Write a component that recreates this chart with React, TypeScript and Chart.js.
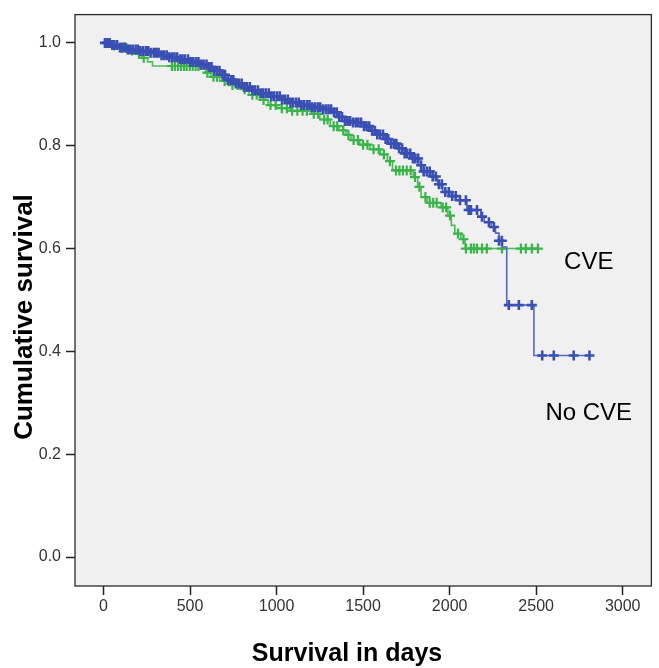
import { FC, useEffect, useRef } from 'react';
import { Chart, registerables, Plugin } from 'chart.js';

Chart.register(...registerables);

// Kaplan-Meier steps: [day, cumulative survival]
const noCveSteps: [number, number][] = [
  [0, 1.0], [40, 0.996], [90, 0.991], [140, 0.987], [200, 0.984], [260, 0.981],
  [320, 0.976], [370, 0.972], [430, 0.968], [490, 0.963], [550, 0.958], [600, 0.953],
  [640, 0.946], [680, 0.938], [715, 0.928], [760, 0.921], [800, 0.914], [850, 0.908],
  [900, 0.902], [960, 0.896], [1020, 0.89], [1080, 0.884], [1140, 0.879], [1200, 0.875],
  [1260, 0.871], [1320, 0.865], [1350, 0.856], [1380, 0.848], [1440, 0.845], [1490, 0.838],
  [1540, 0.829], [1580, 0.822], [1620, 0.813], [1660, 0.804], [1700, 0.795], [1740, 0.785],
  [1780, 0.775], [1820, 0.762], [1850, 0.75], [1890, 0.74], [1930, 0.725], [1960, 0.71],
  [2010, 0.702], [2060, 0.694], [2100, 0.675], [2180, 0.662], [2200, 0.651], [2240, 0.642],
  [2265, 0.63], [2285, 0.615], [2305, 0.603], [2330, 0.49], [2487, 0.392],
];
const noCveCensored = [
  8, 22, 35, 50, 62, 78, 95, 110, 124, 140, 152, 168, 185, 198, 212, 228, 245, 258, 272, 290,
  305, 318, 335, 350, 365, 380, 396, 410, 425, 442, 456, 470, 488, 502, 515, 532, 548, 562,
  578, 595, 610, 624, 640, 655, 670, 688, 702, 718, 735, 750, 765, 782, 798, 812, 828, 845,
  860, 875, 892, 908, 922, 938, 955, 970, 985, 1002, 1018, 1032, 1048, 1065, 1080, 1095,
  1112, 1128, 1142, 1158, 1175, 1190, 1205, 1222, 1238, 1252, 1268, 1285, 1300, 1315, 1332,
  1348, 1362, 1378, 1395, 1410, 1425, 1442, 1458, 1472, 1488, 1505, 1520, 1535, 1552, 1568,
  1582, 1598, 1615, 1630, 1645, 1662, 1678, 1692, 1708, 1725, 1740, 1755, 1772, 1788, 1802,
  1818, 1835, 1850, 1868, 1885, 1902, 1920, 1938, 1955, 1975, 1995, 2015, 2035, 2060, 2094,
  2110, 2123, 2158, 2187, 2227, 2256, 2285, 2302, 2342, 2400, 2475, 2535, 2602, 2717, 2808,
];

const cveSteps: [number, number][] = [
  [0, 1.0], [50, 0.995], [90, 0.99], [140, 0.985], [180, 0.979], [220, 0.971], [255, 0.963],
  [283, 0.955], [560, 0.949], [590, 0.942], [620, 0.934], [670, 0.926], [730, 0.918],
  [790, 0.91], [840, 0.899], [900, 0.889], [950, 0.879], [1000, 0.873], [1080, 0.868],
  [1200, 0.862], [1250, 0.851], [1310, 0.838], [1360, 0.83], [1400, 0.821], [1430, 0.811],
  [1480, 0.802], [1540, 0.793], [1600, 0.783], [1640, 0.77], [1670, 0.752], [1790, 0.739],
  [1815, 0.72], [1835, 0.7], [1870, 0.689], [1950, 0.68], [1990, 0.664], [2010, 0.645],
  [2030, 0.629], [2065, 0.618], [2090, 0.6],
];
const cveCensored = [
  28, 62, 105, 132, 165, 205, 232, 395, 412, 430, 448, 465, 480, 498, 515, 532, 548, 600,
  635, 655, 700, 745, 775, 815, 860, 885, 925, 965, 995, 1030, 1060, 1090, 1120, 1150, 1175,
  1215, 1240, 1275, 1295, 1330, 1350, 1385, 1415, 1445, 1470, 1500, 1525, 1560, 1590, 1620,
  1655, 1690, 1710, 1730, 1752, 1775, 1800, 1825, 1860, 1885, 1905, 1925, 1960, 1980, 2002,
  2048, 2080, 2094, 2123, 2140, 2158, 2187, 2215, 2302, 2412, 2440, 2475, 2510,
];

const xTicks = [0, 500, 1000, 1500, 2000, 2500, 3000];
const yTicks = [0, 0.2, 0.4, 0.6, 0.8, 1.0];

const groupLabels = [
  { text: 'CVE', x: 2804, y: 0.56 },
  { text: 'No CVE', x: 2804, y: 0.267 },
];

const BLUE = '#3a4fb3';
const BLUE_LINE = '#5468c0';
const GREEN = '#38b449';
const GREEN_LINE = '#4cbc5a';
const FONT = "'Liberation Sans', Arial, Helvetica, sans-serif";
const TICK_FONT = "'Liberation Sans Narrow', 'Arial Narrow', 'Liberation Sans', Arial, sans-serif";

const survivalAt = (steps: [number, number][], t: number) => {
  let s = steps[0][1];
  for (const [d, v] of steps) {
    if (d <= t) s = v;
  }
  return s;
};

const stepLine = (steps: [number, number][], end: number) => [
  ...steps.map(([x, y]) => ({ x, y })),
  { x: end, y: steps[steps.length - 1][1] },
];

const censorMarks = (steps: [number, number][], times: number[]) =>
  times.map((t) => ({ x: t, y: survivalAt(steps, t) }));

const framePlugin: Plugin = {
  id: 'kmFrame',
  beforeDraw(chart) {
    const { ctx, chartArea: a } = chart;
    ctx.save();
    ctx.fillStyle = '#f0f0f0';
    ctx.fillRect(a.left, a.top, a.right - a.left, a.bottom - a.top);
    ctx.restore();
  },
  afterDraw(chart) {
    const { ctx, chartArea: a, scales } = chart;
    ctx.save();
    ctx.strokeStyle = '#2a2a2a';
    ctx.lineWidth = 1.3;
    ctx.strokeRect(a.left, a.top, a.right - a.left, a.bottom - a.top);

    ctx.fillStyle = '#000';
    ctx.font = `24px ${FONT}`;
    ctx.textAlign = 'center';
    ctx.textBaseline = 'alphabetic';
    groupLabels.forEach((g) => {
      ctx.fillText(g.text, scales.x.getPixelForValue(g.x), scales.y.getPixelForValue(g.y));
    });

    ctx.font = `bold 25px ${FONT}`;
    ctx.fillText('Survival in days', 347, 661);

    ctx.translate(31.5, 317);
    ctx.rotate(-Math.PI / 2);
    ctx.font = `bold 26px ${FONT}`;
    ctx.fillText('Cumulative survival', 0, 0);
    ctx.restore();
  },
};

const App: FC = () => {
  const chartRef = useRef<HTMLCanvasElement | null>(null);

  useEffect(() => {
    if (!chartRef.current) return;
    const ctx = chartRef.current.getContext('2d');
    if (!ctx) return;

    const myChart = new Chart(ctx, {
      type: 'line',
      data: {
        datasets: [
          {
            label: 'No CVE censored',
            type: 'scatter',
            data: censorMarks(noCveSteps, noCveCensored),
            pointStyle: 'cross',
            pointRadius: 5,
            borderColor: BLUE,
            backgroundColor: BLUE,
            pointBorderWidth: 2.6,
          },
          {
            label: 'No CVE',
            data: stepLine(noCveSteps, 2808),
            stepped: true,
            borderColor: BLUE_LINE,
            borderWidth: 1.6,
            pointRadius: 0,
            fill: false,
          },
          {
            label: 'CVE censored',
            type: 'scatter',
            data: censorMarks(cveSteps, cveCensored),
            pointStyle: 'cross',
            pointRadius: 5,
            borderColor: GREEN,
            backgroundColor: GREEN,
            pointBorderWidth: 2.2,
          },
          {
            label: 'CVE',
            data: stepLine(cveSteps, 2515),
            stepped: true,
            borderColor: GREEN_LINE,
            borderWidth: 1.6,
            pointRadius: 0,
            fill: false,
          },
        ],
      },
      options: {
        animation: false,
        responsive: true,
        maintainAspectRatio: false,
        layout: { padding: { top: 9, right: 6, left: 0, bottom: 0 } },
        plugins: {
          legend: { display: false },
          tooltip: { enabled: false },
        },
        scales: {
          x: {
            type: 'linear',
            min: -165,
            max: 3166,
            afterBuildTicks: (scale) => {
              scale.ticks = xTicks.map((value) => ({ value }));
            },
            afterFit: (scale) => {
              scale.height = 82;
            },
            grid: {
              display: true,
              drawOnChartArea: false,
              drawTicks: true,
              tickLength: 9,
              tickColor: '#222',
              tickWidth: 1.5,
            },
            border: { display: false },
            ticks: {
              padding: 2,
              color: '#333',
              font: { family: TICK_FONT, size: 16 },
              maxRotation: 0,
              callback: (v) => String(v),
            },
          },
          y: {
            type: 'linear',
            min: -0.0564,
            max: 1.055,
            afterBuildTicks: (scale) => {
              scale.ticks = yTicks.map((value) => ({ value }));
            },
            afterFit: (scale) => {
              scale.width = 75;
            },
            grid: {
              display: true,
              drawOnChartArea: false,
              drawTicks: true,
              tickLength: 9,
              tickColor: '#222',
              tickWidth: 1.5,
            },
            border: { display: false },
            ticks: {
              padding: 5,
              color: '#333',
              font: { family: TICK_FONT, size: 16 },
              callback: (v) => Number(v).toFixed(1),
            },
          },
        },
      },
      plugins: [framePlugin],
    });

    return () => {
      myChart.destroy();
    };
  }, []);

  return (
    <div style={{ position: 'absolute', left: 0, top: 0, width: 659, height: 668, background: '#fff' }}>
      <canvas ref={chartRef}></canvas>
    </div>
  );
};

export default App;
